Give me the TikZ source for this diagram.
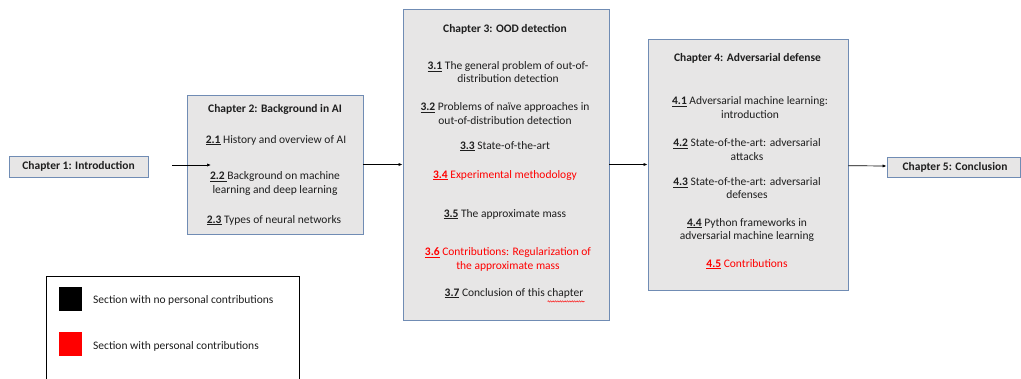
\documentclass[tikz,border=0pt]{standalone}
\usepackage{fontspec}
\setmainfont{Carlito}
\usetikzlibrary{arrows.meta,decorations.pathmorphing}
\definecolor{boxfill}{RGB}{231,230,230}
\definecolor{boxline}{RGB}{112,140,180}
\definecolor{txt}{RGB}{30,30,30}
\definecolor{contrib}{RGB}{255,0,0}
\newcommand\secno[1]{\underline{\textbf{#1}}}
\newcommand\basefont{\fontsize{11.5}{13.6}\selectfont}
\tikzset{
  chapbox/.style={draw=boxline, fill=boxfill, line width=0.9pt, inner sep=0pt},
  ttl/.style={font=\basefont\bfseries, text=txt, inner sep=0pt, yshift=-1.2pt},
  item/.style={font=\basefont, text=txt, align=center, inner sep=0pt, yshift=-1.2pt},
  redtext/.style={font=\basefont, text=contrib, align=center, inner sep=0pt, yshift=-1.2pt},
  legtext/.style={font=\basefont, anchor=west, text=txt, inner sep=0pt, yshift=-1pt},
  arr/.style={-{Latex[length=4pt,width=3.2pt]}, line width=0.7pt, black},
  spellwave/.style={draw=red, line width=0.4pt, decorate, decoration={snake, amplitude=0.7pt, segment length=2.4pt}},
}
\begin{document}
\begin{tikzpicture}[x=1pt,y=-1pt,font=\basefont]
\useasboundingbox (0,0) rectangle (1021,378);
\fill[white] (0,0) rectangle (1021,378);

% chapter boxes
\node[chapbox, font=\basefont\bfseries, text=txt, minimum width=139pt, minimum height=21pt] (c1) at (78.5,166.5) {Chapter 1: Introduction};
\node[chapbox, minimum width=176pt, minimum height=139pt] (c2) at (275,164.5) {};
\node[chapbox, minimum width=206pt, minimum height=311pt] (c3) at (506,164.5) {};
\node[chapbox, minimum width=200pt, minimum height=251pt] (c4) at (748,164.5) {};
\node[chapbox, minimum width=133pt, minimum height=20pt] (c5) at (953.5,167) {};
\node[ttl] (c5t) at (955,166.5) {Chapter 5: Conclusion};

% chapter 2
\node[ttl] (t2) at (275,108) {Chapter 2: Background in AI};
\node[item] (s21) at (276,139) {\secno{2.1} History and overview of AI};
\node[item] (s22) at (275,182.4) {\underline{\textbf{2.2}\ }Background on machine\\learning and deep learning};
\node[item] (s23) at (274,219) {\secno{2.3} Types of neural networks};

% chapter 3
\node[ttl] (t3) at (505,27.7) {Chapter 3: OOD detection};
\node[item] (s31) at (508,71) {\secno{3.1} The general problem of out-of-\\distribution detection};
\node[item] (s32) at (505,112.5) {\secno{3.2} Problems of naïve approaches in\\out-of-distribution detection};
\node[item] (s33) at (505,145) {\secno{3.3} State-of-the-art};
\node[redtext] (s34) at (505,174) {\secno{3.4} Experimental methodology};
\node[item] (s35) at (505,213) {\secno{3.5} The approximate mass};
\node[redtext] (s36) at (508,258) {\secno{3.6} Contributions: Regularization of\\the approximate mass};
\node[item] (s37) at (514,292) {\secno{3.7} Conclusion of this chapter};
\draw[spellwave] ([xshift=-36pt,yshift=-3pt]s37.south east) -- ([xshift=1pt,yshift=-3pt]s37.south east);

% chapter 4
\node[ttl] (t4) at (747.5,56.7) {Chapter 4: Adversarial defense};
\node[item] (s41) at (750,106.3) {\secno{4.1} Adversarial machine learning:\\introduction};
\node[item] (s42) at (747,148.5) {\secno{4.2} State-of-the-art: adversarial\\attacks};
\node[item] (s43) at (747,187) {\secno{4.3} State-of-the-art: adversarial\\defenses};
\node[item] (s44) at (747,228.7) {\secno{4.4} Python frameworks in\\adversarial machine learning};
\node[redtext] (s45) at (747,263) {\secno{4.5} Contributions};

% connectors
\coordinate (a12s) at (172,165);
\coordinate (a12e) at (211,165);
\draw[arr] (a12s) -- (a12e);
\draw[arr] (c2.east) -- (c3.west);
\draw[arr] (c3.east) -- (c4.west);
\draw[arr] ([yshift=-1.2pt]c4.east) -- ([yshift=1pt]c5.west);

% legend
\node[draw=black, line width=0.8pt, fill=white, minimum width=253pt, minimum height=130pt, inner sep=0pt] (leg) at (172.5,341) {};
\node[fill=black, minimum width=23pt, minimum height=24pt, inner sep=0pt] (kb) at (70.5,299) {};
\node[fill=contrib, minimum width=23pt, minimum height=24pt, inner sep=0pt] (kr) at (70.5,344) {};
\node[legtext] (lb) at (93,299.3) {Section with no personal contributions};
\node[legtext] (lr) at (93,345) {Section with personal contributions};
\end{tikzpicture}
\end{document}
